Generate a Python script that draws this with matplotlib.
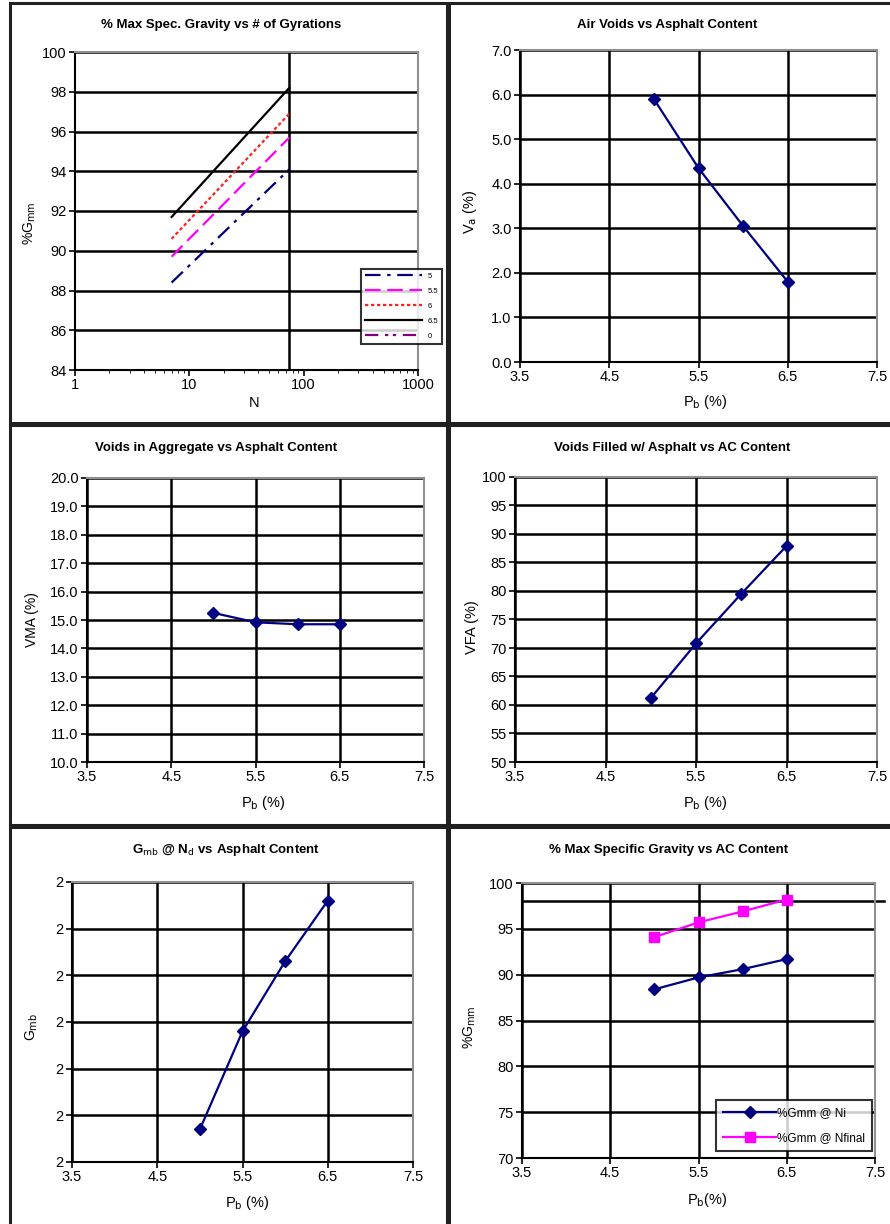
import matplotlib
matplotlib.use("Agg")
import matplotlib.pyplot as plt
from matplotlib.patches import Rectangle
from matplotlib.ticker import FormatStrFormatter, MultipleLocator, FixedLocator

plt.rcParams['font.family'] = ['Liberation Sans', 'DejaVu Sans']

# data
ac = [5.0, 5.5, 6.0, 6.5]
ac_ticks = [3.5, 4.5, 5.5, 6.5, 7.5]
ac_labels = ['5', '5.5', '6', '6.5', '0']
gyrations = [7, 75]
n_design = 75
va = [5.9, 4.35, 3.05, 1.8]
vma = [15.25, 14.92, 14.85, 14.85]
vfa = [61.2, 70.8, 79.5, 87.9]
gmb = [2.347, 2.368, 2.383, 2.396]
gmm_ni = [88.4, 89.7, 90.6, 91.7]
gmm_nfinal = [94.1, 95.7, 96.9, 98.2]
gmm_limit = 98

W, H = 890, 1224
fig = plt.figure(figsize=(W / 100, H / 100), dpi=100)

NAVY = '#000080'
GRID = dict(color='black', lw=1.8)


def px_axes(l, r, t, b):
    return fig.add_axes([l / W, 1 - b / H, (r - l) / W, (b - t) / H])


def style(ax):
    for s in ('top', 'right'):
        ax.spines[s].set_color('#909090')
        ax.spines[s].set_linewidth(1.5)
    for s in ('left', 'bottom'):
        ax.spines[s].set_color('black')
        ax.spines[s].set_linewidth(1.5)
    ax.tick_params(labelsize=10.5, length=4, width=1.2, direction='out', pad=2)
    ax.set_axisbelow(True)


def ftext(x, y, s, **kw):
    fig.text(x / W, 1 - y / H, s, ha='center', va='center', **kw)


def ac_axes(ax, ymin, ymax, step, fmt):
    ax.set_xlim(3.5, 7.5)
    ax.set_ylim(ymin, ymax)
    ax.xaxis.set_major_locator(FixedLocator(ac_ticks))
    ax.yaxis.set_major_locator(MultipleLocator(step))
    ax.xaxis.set_major_formatter(FormatStrFormatter('%.1f'))
    ax.yaxis.set_major_formatter(FormatStrFormatter(fmt))
    ax.grid(True, **GRID)
    style(ax)


# panel frames
for (x0, y0, x1, y1) in [(10, 3, 447, 423), (449, 3, 892, 423),
                         (10, 425, 447, 825), (449, 425, 892, 825),
                         (10, 827, 447, 1226), (449, 827, 892, 1226)]:
    fig.patches.append(Rectangle((x0 / W, 1 - y1 / H), (x1 - x0) / W, (y1 - y0) / H,
                                 transform=fig.transFigure, fill=False,
                                 ec='#202020', lw=2.2))

# 1. %Gmm vs gyrations
ax = px_axes(75, 418, 52, 370)
ax.set_xscale('log')
ax.set_xlim(1, 1000)
ax.set_ylim(84, 100)
ax.yaxis.set_major_locator(MultipleLocator(2))
ax.xaxis.set_major_locator(FixedLocator([1, 10, 100, 1000]))
ax.xaxis.set_major_formatter(FormatStrFormatter('%d'))
ax.yaxis.grid(True, **GRID)
style(ax)
ax.axvline(n_design, color='black', lw=1.8)
styles = [dict(color=NAVY, dashes=[7, 3, 1.5, 3]),
          dict(color='#FF00FF', dashes=[7, 3]),
          dict(color='#FF2020', dashes=[1.5, 1.2]),
          dict(color='black', ls='-')]
for i, st in enumerate(styles):
    ax.plot(gyrations, [gmm_ni[i], gmm_nfinal[i]], lw=1.6, label=ac_labels[i], **st)
ax.plot([], [], color='#800080', lw=1.6, dashes=[6, 3, 1.5, 2, 1.5, 3], label=ac_labels[4])
leg = ax.legend(loc='upper left', bbox_to_anchor=(357 / W, 1 - 265 / H),
                bbox_transform=fig.transFigure, fontsize=5.5, handlelength=7.5,
                frameon=True, fancybox=False, borderpad=0.5, labelspacing=1.0)
leg.get_frame().set_edgecolor('black')
leg.get_frame().set_linewidth(1.5)
ftext(221, 25, '% Max Spec. Gravity vs # of Gyrations', fontsize=9.5, fontweight='bold')
ftext(254, 403, 'N', fontsize=10.5)
ftext(30, 223, r'%G$_\mathrm{mm}$', fontsize=10, rotation=90)

# 2. air voids
ax = px_axes(520, 877, 50, 362)
ac_axes(ax, 0, 7, 1, '%.1f')
ax.plot(ac, va, color=NAVY, marker='D', ms=6, lw=1.6)
ftext(667, 25, 'Air Voids vs Asphalt Content', fontsize=9.5, fontweight='bold')
ftext(705, 402, r'P$_\mathrm{b}$ (%)', fontsize=10.5)
ftext(470, 212, r'V$_\mathrm{a}$ (%)', fontsize=10.5, rotation=90)

# 3. VMA
ax = px_axes(87, 424, 478, 762)
ac_axes(ax, 10, 20, 1, '%.1f')
ax.plot(ac, vma, color=NAVY, marker='D', ms=6, lw=1.6)
ftext(216, 448, 'Voids in Aggregate vs Asphalt Content', fontsize=9.5, fontweight='bold')
ftext(263, 803, r'P$_\mathrm{b}$ (%)', fontsize=10.5)
ftext(32, 620, 'VMA (%)', fontsize=10, rotation=90)

# 4. VFA
ax = px_axes(515, 877, 477, 762)
ac_axes(ax, 50, 100, 5, '%d')
ax.plot(ac, vfa, color=NAVY, marker='D', ms=6, lw=1.6)
ftext(672, 448, 'Voids Filled w/ Asphalt vs AC Content', fontsize=9.5, fontweight='bold')
ftext(705, 803, r'P$_\mathrm{b}$ (%)', fontsize=10.5)
ftext(472, 627, 'VFA (%)', fontsize=10.5, rotation=90)

# 5. Gmb
ax = px_axes(72, 413, 882, 1162)
ac_axes(ax, 2.34, 2.40, 0.01, '%.0f')
ax.plot(ac, gmb, color=NAVY, marker='D', ms=6, lw=1.6)
ftext(226, 850, r'G$_\mathrm{mb}$ @ N$_\mathrm{d}$ vs Asphalt Content', fontsize=9.5,
      fontweight='bold')
ftext(247, 1203, r'P$_\mathrm{b}$ (%)', fontsize=10.5)
ftext(32, 1027, r'G$_\mathrm{mb}$', fontsize=10, rotation=90)

# 6. %Gmm vs AC
ax = px_axes(522, 875, 883, 1158)
ac_axes(ax, 70, 100, 5, '%d')
ax.plot([3.5, 7.6], [gmm_limit, gmm_limit], color='black', lw=1.8, clip_on=False)
ax.plot(ac, gmm_ni, color=NAVY, marker='D', ms=6, lw=1.6, label='%Gmm @ Ni')
ax.plot(ac, gmm_nfinal, color='#FF00FF', marker='s', ms=7, lw=1.6, label='%Gmm @ Nfinal')
leg = ax.legend(loc='upper left', bbox_to_anchor=(710 / W, 1 - 1094 / H),
                bbox_transform=fig.transFigure, fontsize=8.5, handlelength=4.5,
                frameon=True, fancybox=False, borderpad=0.6, labelspacing=1.1,
                handletextpad=0.1)
leg.get_frame().set_edgecolor('black')
leg.get_frame().set_linewidth(1.5)
ftext(669, 850, '% Max Specific Gravity vs AC Content', fontsize=9.5, fontweight='bold')
ftext(707, 1200, r'P$_\mathrm{b}$(%)', fontsize=10.5)
ftext(470, 1027, r'%G$_\mathrm{mm}$', fontsize=10, rotation=90)

fig.savefig('out.png', dpi=100)
